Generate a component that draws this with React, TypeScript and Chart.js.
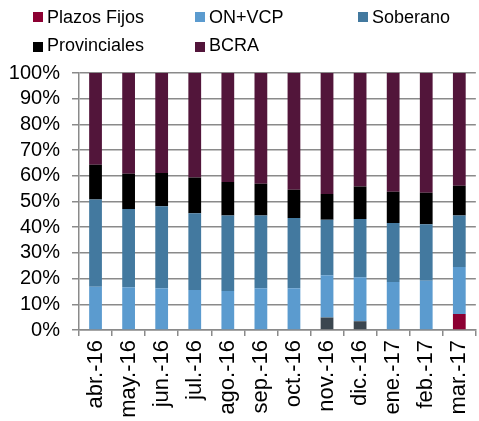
import React, { useEffect, useRef } from "react";
import { Chart, registerables } from "chart.js";

Chart.register(...registerables);

const categories = ["abr.-16", "may.-16", "jun.-16", "jul.-16", "ago.-16", "sep.-16", "oct.-16", "nov.-16", "dic.-16", "ene.-17", "feb.-17", "mar.-17"];
const plazosFijos = [0, 0, 0, 0, 0, 0, 0, 0, 0, 0, 0, 6.2];
const otros = [0, 0, 0, 0, 0, 0, 0, 4.9, 3.4, 0, 0, 0];
const onVcp = [16.8, 16.6, 16.2, 15.6, 15.2, 16.2, 16.2, 16.4, 17.1, 18.7, 19.2, 18.3];
const soberano = [34.0, 30.5, 32.0, 29.8, 29.4, 28.4, 27.4, 21.6, 22.7, 22.9, 21.9, 20.1];
const provinciales = [13.5, 13.7, 12.9, 13.9, 13.0, 12.3, 11.0, 10.0, 12.6, 12.2, 12.3, 11.5];
const bcra = [35.7, 39.2, 38.9, 40.7, 42.4, 43.1, 45.4, 47.1, 44.2, 46.2, 46.6, 43.9];
const yTicks = [0, 10, 20, 30, 40, 50, 60, 70, 80, 90, 100];

const FONT = "'Liberation Sans', Arial, sans-serif";

const legendItems = [
  { label: "Plazos Fijos", color: "#8c0032", x: 33, row: 0 },
  { label: "ON+VCP", color: "#5b9bcf", x: 195, row: 0 },
  { label: "Soberano", color: "#43799f", x: 358, row: 0 },
  { label: "Provinciales", color: "#000000", x: 33, row: 1 },
  { label: "BCRA", color: "#52153a", x: 195, row: 1 },
];

export default function App() {
  const ref = useRef<HTMLCanvasElement | null>(null);

  useEffect(() => {
    if (!ref.current) return;
    const mk = (label: string, data: number[], color: string) => ({
      label,
      data,
      backgroundColor: color,
      borderWidth: 0,
      categoryPercentage: 1,
      barPercentage: 0.386,
    });
    const chart = new Chart(ref.current, {
      type: "bar",
      data: {
        labels: categories,
        datasets: [
          mk("Plazos Fijos", plazosFijos, "#8c0032"),
          mk("Otros", otros, "#3b464f"),
          mk("ON+VCP", onVcp, "#5b9bcf"),
          mk("Soberano", soberano, "#43799f"),
          mk("Provinciales", provinciales, "#000000"),
          mk("BCRA", bcra, "#52153a"),
        ],
      },
      options: {
        responsive: false,
        animation: false,
        layout: { padding: { top: 73, right: 7, left: 0, bottom: 0 } },
        plugins: { legend: { display: false }, tooltip: { enabled: false } },
        scales: {
          x: {
            stacked: true,
            grid: {
              display: true,
              drawOnChartArea: false,
              drawTicks: true,
              tickLength: 6,
              color: "#8a8a8a",
              lineWidth: 1.5,
              offset: true,
            },
            border: { display: true, color: "#8a8a8a", width: 1.5 },
            ticks: {
              minRotation: 90,
              maxRotation: 90,
              padding: 4,
              color: "#000",
              font: { family: FONT, size: 22 },
              autoSkip: false,
            },
            afterFit: (s: any) => {
              s.height = 91;
            },
          },
          y: {
            stacked: true,
            min: 0,
            max: 100,
            afterBuildTicks: (s: any) => {
              s.ticks = yTicks.map((v) => ({ value: v }));
            },
            grid: {
              color: "#8a8a8a",
              lineWidth: 1.5,
              drawTicks: true,
              tickLength: 7,
            },
            border: { display: true, color: "#8a8a8a", width: 1.5 },
            ticks: {
              autoSkip: false,
              padding: 12,
              color: "#000",
              font: { family: FONT, size: 20 },
              callback: (v: any) => v + "%",
            },
            afterFit: (s: any) => {
              s.width = 79;
            },
          },
        },
      },
    });
    return () => chart.destroy();
  }, []);

  return (
    <div style={{ position: "fixed", left: 0, top: 0, width: 490, height: 421, background: "#fff", overflow: "hidden" }}>
      <canvas ref={ref} width={490} height={421} style={{ position: "absolute", left: 0, top: 0 }} />
      {legendItems.map((it) => (
        <div key={it.label}>
          <div
            style={{
              position: "absolute",
              left: it.x,
              top: it.row === 0 ? 11.7 : 41.7,
              width: 10,
              height: 10,
              background: it.color,
            }}
          />
          <div
            style={{
              position: "absolute",
              left: it.x + 14,
              top: it.row === 0 ? 7.9 : 36.2,
              fontFamily: FONT,
              fontSize: 18,
              lineHeight: "18px",
              color: "#000",
              whiteSpace: "nowrap",
            }}
          >
            {it.label}
          </div>
        </div>
      ))}
    </div>
  );
}
